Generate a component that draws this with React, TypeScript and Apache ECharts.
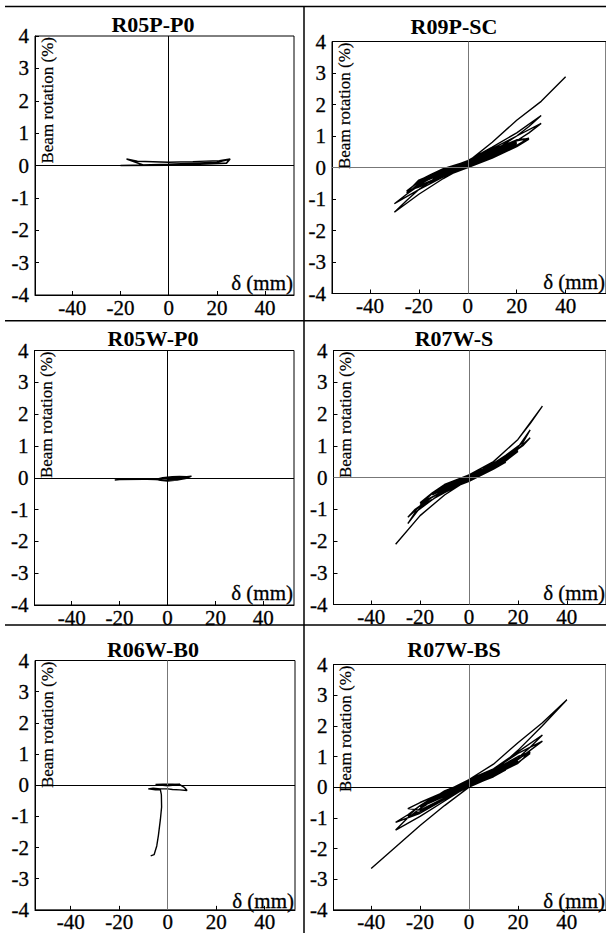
import React, { useEffect, useRef } from "react";
import * as echarts from "echarts";

const titles = ["R05P-P0", "R09P-SC", "R05W-P0", "R07W-S", "R06W-B0", "R07W-BS"];
const xTicks = [-40, -20, 0, 20, 40];
const yTicks = [-4, -3, -2, -1, 0, 1, 2, 3, 4];
const yName = "Beam rotation (%)";
const xName = "δ (mm)";

const dataR05PP0 = [
  [-2, 0.02], [2, 0.04], [-2, 0.01], [5, 0.05], [-5, 0.0], [0, 0.03], [10, 0.06], [5, 0.04],
  [-10, 0.0], [-5, 0.02], [15, 0.07], [10, 0.05], [-15, 0.0], [-10, 0.01], [20, 0.08], [15, 0.05],
  [-20, 0.0], [-15, 0.01], [0, 0.04], [20, 0.1], [25, 0.18], [24, 0.08], [15, 0.05], [0, 0.02],
  [-10, 0.0], [-17.5, 0.2], [-13, 0.13], [0, 0.1], [10, 0.12], [21, 0.15], [25.5, 0.2], [24, 0.07],
  [10, 0.03], [0, 0.01], [-20, 0.0],
];

const dataR09PSC = [
  [0, 0.1], [5, 0.25], [0, 0.12], [-5, 0.0], [0, 0.12], [5, 0.27], [0, 0.1], [-5, -0.02], [0, 0.14],
  [10, 0.4], [5, 0.27], [0, 0.1], [-5, -0.02], [-10, -0.12], [-5, 0.03], [0, 0.15],
  [10, 0.43], [5, 0.3], [0, 0.08], [-10, -0.15], [-5, 0.0], [0, 0.16],
  [10, 0.42], [15, 0.6], [10, 0.42], [5, 0.25], [0, 0.1], [-10, -0.15], [-15, -0.3], [-10, -0.08], [-5, 0.03], [0, 0.15],
  [10, 0.45], [15, 0.58], [10, 0.38], [0, 0.06], [-10, -0.2], [-15, -0.35], [-10, -0.1], [0, 0.17],
  [10, 0.45], [15, 0.62], [20, 0.78], [15, 0.55], [10, 0.38], [0, 0.08], [-10, -0.18], [-15, -0.32], [-20, -0.45], [-15, -0.25], [-10, -0.05], [0, 0.18],
  [10, 0.5], [20, 0.8], [15, 0.58], [10, 0.4], [0, 0.05], [-10, -0.2], [-20, -0.5], [-15, -0.28], [-10, -0.08], [0, 0.2],
  [10, 0.48], [20, 0.76], [15, 0.52], [10, 0.36], [0, 0.04], [-10, -0.24], [-20, -0.42], [-15, -0.22], [-10, -0.04], [0, 0.2],
  [10, 0.52], [20, 0.85], [25, 0.93], [20, 0.7], [10, 0.35], [0, 0.05], [-10, -0.25], [-20, -0.58], [-25, -0.85], [-20, -0.5], [-10, -0.12], [0, 0.2],
  [10, 0.55], [20, 0.88], [25, 0.92], [20, 0.68], [10, 0.33], [0, 0.02], [-10, -0.28], [-20, -0.62], [-25, -0.75], [-20, -0.45], [-10, -0.1], [0, 0.22],
  [10, 0.58], [20, 0.86], [25, 0.9], [20, 0.66], [10, 0.3], [0, 0.0], [-10, -0.3], [-20, -0.6], [-25, -0.8], [-20, -0.4], [-10, -0.08], [0, 0.22],
  [10, 0.65], [20, 1.1], [30, 1.65], [25, 1.3], [20, 1.0], [10, 0.5], [0, 0.08], [-10, -0.35], [-20, -0.85], [-30, -1.42], [-25, -1.05], [-20, -0.7], [-10, -0.15], [0, 0.2],
  [10, 0.6], [20, 1.0], [30, 1.4], [25, 1.1], [20, 0.85], [10, 0.4], [0, 0.05], [-10, -0.3], [-20, -0.7], [-30, -1.15], [-25, -0.85], [-20, -0.55], [-10, -0.12], [0, 0.18],
  [10, 0.8], [20, 1.5], [30, 2.1], [40, 2.88],
];

const dataR05WP0 = [
  [0, 0], [3, 0.02], [6, 0.03], [9, 0.02], [6, -0.03], [3, -0.08], [0, -0.1], [-3, -0.08], [-5, -0.05],
  [-2, 0.0], [2, 0.03], [5, 0.04], [8, 0.03], [10, 0.05], [8, -0.02], [4, -0.07], [0, -0.08], [-5, -0.06],
  [-12, -0.04], [-20, -0.05], [-22, -0.07], [-20, -0.06], [-10, -0.05], [-4, -0.04], [0, -0.02], [4, 0.0],
  [7, 0.02], [4, -0.05], [0, -0.06],
];

const dataR07WS = [
  [0, 0], [5, 0.15], [0, 0.0], [-5, -0.2], [0, -0.05], [5, 0.12], [0, -0.02], [-5, -0.18], [0, -0.03],
  [5, 0.18], [10, 0.3], [5, 0.12], [0, -0.05], [-5, -0.2], [-10, -0.35], [-5, -0.15], [0, 0.05],
  [5, 0.2], [10, 0.33], [5, 0.1], [0, -0.08], [-5, -0.25], [-10, -0.3], [-5, -0.1], [0, 0.06],
  [5, 0.2], [10, 0.35], [15, 0.5], [10, 0.3], [5, 0.1], [0, -0.1], [-5, -0.22], [-10, -0.35], [-15, -0.55], [-10, -0.3], [-5, -0.12], [0, 0.05],
  [10, 0.32], [15, 0.48], [10, 0.26], [0, -0.12], [-10, -0.38], [-15, -0.5], [-10, -0.26], [0, 0.08],
  [10, 0.35], [20, 0.85], [15, 0.55], [10, 0.3], [0, -0.1], [-10, -0.4], [-20, -0.85], [-15, -0.5], [-10, -0.25], [0, 0.05],
  [10, 0.38], [20, 0.82], [15, 0.52], [10, 0.28], [0, -0.12], [-10, -0.42], [-20, -0.8], [-15, -0.48], [-10, -0.22], [0, 0.08],
  [10, 0.4], [20, 0.95], [25, 1.5], [22, 1.1], [15, 0.7], [10, 0.45], [0, -0.05], [-10, -0.45], [-20, -0.95], [-25, -1.45], [-22, -1.1], [-15, -0.7], [-10, -0.4], [0, 0.05],
  [10, 0.42], [20, 0.9], [25, 1.25], [22, 1.0], [15, 0.62], [10, 0.4], [0, -0.08], [-10, -0.48], [-20, -0.9], [-25, -1.25], [-22, -1.0], [-15, -0.62], [-10, -0.38], [0, 0.08],
  [10, 0.5], [20, 1.2], [30, 2.25], [25, 1.7], [20, 1.2], [10, 0.5], [0, -0.05], [-10, -0.55], [-20, -1.2], [-30, -2.1],
];

const dataR06WB0 = [
  [0, 0], [3, 0.02], [5, 0.03], [3, 0.0], [0, -0.02], [-3, 0.0], [-5, 0.02], [-2, 0.03], [2, 0.03],
  [5, 0.02], [7, -0.08], [8, -0.17], [5, -0.15], [2, -0.14], [0, -0.12], [-3, -0.12], [-6, -0.1],
  [-8, -0.12], [-5, -0.15], [-3, -0.15], [-2.6, -0.3], [-2.5, -0.7], [-3.0, -1.1], [-3.8, -1.6],
  [-4.5, -1.95], [-5.6, -2.23], [-7, -2.27],
];

const dataR07WBS = [
  [0, 0.1], [5, 0.25], [0, 0.1], [-5, -0.05], [0, 0.1], [5, 0.28], [0, 0.08], [-5, -0.08], [0, 0.12],
  [10, 0.4], [5, 0.25], [0, 0.05], [-5, -0.05], [-10, -0.2], [-5, 0.0], [0, 0.15],
  [10, 0.42], [15, 0.6], [10, 0.38], [5, 0.2], [0, 0.05], [-10, -0.22], [-15, -0.38], [-10, -0.15], [0, 0.15],
  [10, 0.4], [15, 0.56], [10, 0.34], [0, 0.03], [-10, -0.26], [-15, -0.42], [-10, -0.18], [0, 0.17],
  [10, 0.45], [20, 0.85], [15, 0.58], [10, 0.38], [0, 0.02], [-10, -0.28], [-20, -0.6], [-15, -0.35], [-10, -0.15], [0, 0.18],
  [10, 0.48], [20, 0.9], [15, 0.6], [10, 0.35], [0, 0.0], [-10, -0.3], [-20, -0.65], [-15, -0.38], [-10, -0.12], [0, 0.2],
  [10, 0.5], [20, 0.95], [25, 1.1], [20, 0.8], [10, 0.4], [0, 0.0], [-10, -0.35], [-20, -0.75], [-25, -0.7], [-20, -0.5], [-10, -0.15], [0, 0.22],
  [10, 0.55], [20, 1.0], [25, 1.15], [20, 0.78], [10, 0.38], [0, 0.02], [-10, -0.38], [-20, -0.8], [-25, -0.95], [-20, -0.6], [-10, -0.2], [0, 0.25],
  [10, 0.6], [20, 1.15], [30, 1.7], [25, 1.3], [20, 0.95], [10, 0.45], [0, 0.05], [-10, -0.45], [-20, -0.95], [-30, -1.4], [-25, -1.0], [-20, -0.7], [-10, -0.2], [0, 0.25],
  [10, 0.58], [20, 1.1], [30, 1.5], [25, 1.2], [20, 0.9], [10, 0.4], [0, 0.02], [-10, -0.4], [-20, -0.85], [-30, -1.15], [-25, -0.9], [-20, -0.6], [-10, -0.15], [0, 0.25],
  [10, 0.75], [20, 1.45], [30, 2.1], [40, 2.85], [30, 2.0], [20, 1.2], [10, 0.5], [0, 0.0], [-10, -0.6], [-20, -1.25], [-30, -1.95], [-40, -2.65],
];

const panelData = [dataR05PP0, dataR09PSC, dataR05WP0, dataR07WS, dataR06WB0, dataR07WBS];

// layout (pixels)
const grids = [
  { left: 35, top: 36, width: 259, height: 259, xmin: -55.5, xmax: 52 },
  { left: 332, top: 41.5, width: 277, height: 252, xmin: -55.5, xmax: 56.5 },
  { left: 34.5, top: 350.5, width: 259.5, height: 254.5, xmin: -55.5, xmax: 52.8 },
  { left: 333.5, top: 350.5, width: 276, height: 254, xmin: -55.4, xmax: 56 },
  { left: 35, top: 660.5, width: 260, height: 252, xmin: -54.7, xmax: 52.5 },
  { left: 333.5, top: 664.5, width: 276, height: 248, xmin: -55.4, xmax: 56 },
];
const zeroColors = [
  ["#000", "#000"], ["#777", "#777"], ["#000", "#000"], ["#777", "#777"], ["#777", "#000"], ["#777", "#000"],
];
const titleCenters = [
  [153, 24], [454, 26], [153, 338], [454, 338.5], [153, 649], [454, 649.5],
];

const FONT = "Liberation Serif";

export default function App() {
  const ref = useRef<HTMLDivElement>(null);
  useEffect(() => {
    if (!ref.current) return;
    const chart = echarts.init(ref.current, undefined, { renderer: "svg" });
    const graphic: any[] = [];
    const div = { stroke: "#000", lineWidth: 1.5 };
    graphic.push({ type: "line", shape: { x1: 5, y1: 6.5, x2: 606, y2: 6.5 }, style: div });
    graphic.push({ type: "line", shape: { x1: 5, y1: 320.7, x2: 606, y2: 320.7 }, style: div });
    graphic.push({ type: "line", shape: { x1: 5, y1: 625, x2: 606, y2: 625 }, style: div });
    graphic.push({ type: "line", shape: { x1: 304, y1: 6.5, x2: 304, y2: 933 }, style: div });
    grids.forEach((g, i) => {
      graphic.push({
        type: "text",
        x: g.left + 12,
        y: g.top + 1,
        rotation: Math.PI / 2,
        style: { text: yName, fontFamily: FONT, fontSize: 17, fill: "#000", stroke: "#000", lineWidth: 0.2, align: "right", verticalAlign: "middle" },
      });
      graphic.push({
        type: "text",
        x: Math.min(g.left + g.width - 1, 605),
        y: g.top + g.height - 12,
        style: { text: xName, fontFamily: FONT, fontSize: 21, fill: "#000", stroke: "#000", lineWidth: 0.3, align: "right", verticalAlign: "middle" },
      });
      graphic.push({
        type: "text",
        x: titleCenters[i][0],
        y: titleCenters[i][1],
        style: { text: titles[i], fontFamily: FONT, fontSize: 22, fontWeight: "bold", fill: "#000", align: "center", verticalAlign: "middle" },
      });
    });

    const labelStyle = { color: "#000", fontFamily: FONT, fontSize: 21, textBorderColor: "#000", textBorderWidth: 0.3 };
    const option: any = {
      animation: false,
      backgroundColor: "#fff",
      textStyle: { fontFamily: FONT },
      grid: grids.map((g) => ({
        left: g.left, top: g.top, width: g.width, height: g.height,
        show: true, borderColor: "#000", borderWidth: 1, backgroundColor: "transparent",
      })),
      xAxis: grids.map((g, i) => ({
        type: "value", gridIndex: i, min: g.xmin, max: g.xmax,
        axisLine: { show: true, onZero: false, lineStyle: { color: "#000", width: 1 } },
        axisTick: { show: true, inside: true, length: 4, customValues: xTicks, lineStyle: { color: "#000" } },
        axisLabel: { ...labelStyle, customValues: xTicks, margin: 2 },
        splitLine: { show: false },
      })),
      yAxis: grids.map((g, i) => ({
        type: "value", gridIndex: i, min: -4, max: 4, interval: 1,
        axisLine: { show: true, onZero: false, lineStyle: { color: "#000", width: 1 } },
        axisTick: { show: true, inside: true, length: 4, lineStyle: { color: "#000" } },
        axisLabel: { ...labelStyle, margin: 6, customValues: yTicks },
        splitLine: { show: false },
      })),
      series: panelData.map((d, i) => ({
        type: "line",
        xAxisIndex: i,
        yAxisIndex: i,
        data: d,
        showSymbol: false,
        symbol: "none",
        lineStyle: { color: "#000", width: 1.4 },
        silent: true,
        z: 3,
        markLine: {
          silent: true,
          symbol: ["none", "none"],
          label: { show: false },
          animation: false,
          data: [
            { xAxis: 0, lineStyle: { color: zeroColors[i][0], width: 1, type: "solid" } },
            { yAxis: 0, lineStyle: { color: zeroColors[i][1], width: 1, type: "solid" } },
          ],
        },
      })),
      graphic,
    };
    chart.setOption(option);
    return () => chart.dispose();
  }, []);
  return <div ref={ref} style={{ position: "absolute", left: 0, top: 0, width: 606, height: 933 }} />;
}
